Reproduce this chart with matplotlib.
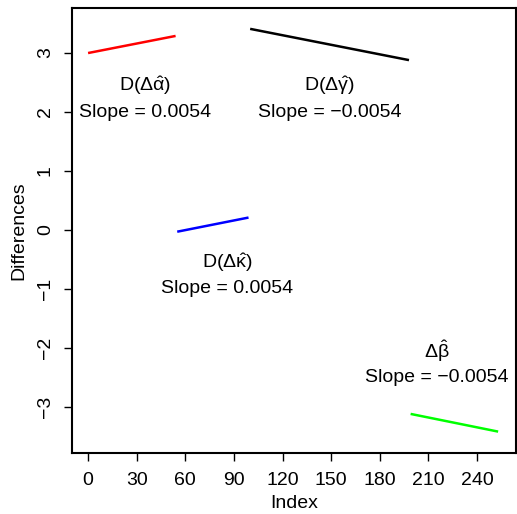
import matplotlib
matplotlib.use("Agg")
import matplotlib.pyplot as plt

plt.rcParams['font.family'] = ['Liberation Sans', 'DejaVu Sans']
plt.rcParams['mathtext.fontset'] = 'custom'
plt.rcParams['mathtext.rm'] = 'Liberation Sans'
plt.rcParams['mathtext.it'] = 'Liberation Sans'

# segment endpoints (index, difference)
seg_x0 = [0, 100, 55, 199]
seg_x1 = [54, 198, 99, 253]
seg_y0 = [3.00, 3.41, -0.03, -3.12]
seg_y1 = [3.29, 2.88, 0.21, -3.42]
seg_colors = ['#ff0000', '#000000', '#0000ff', '#00ff00']

# labels
lab_names = [r'D($\Delta\hat{\alpha}$)', r'D($\Delta\hat{\gamma}$)',
             r'D($\Delta\hat{\kappa}$)', r'$\Delta\hat{\beta}$']
lab_slopes = ['Slope = 0.0054', 'Slope = \u22120.0054',
              'Slope = 0.0054', 'Slope = \u22120.0054']
lab_x = [35, 149, 86, 215]
lab_y = [2.0, 2.0, -1.0, -2.5]

x_ticks = list(range(0, 241, 30))
y_ticks = [-3, -2, -1, 0, 1, 2, 3]

fig = plt.figure(figsize=(5.17, 5.14), dpi=100)
ax = fig.add_axes([0.139, 0.119, 0.859, 0.865])

for i in range(len(seg_x0)):
    ax.plot([seg_x0[i], seg_x1[i]], [seg_y0[i], seg_y1[i]],
            color=seg_colors[i], lw=1.8, solid_capstyle='butt')

for i in range(len(lab_names)):
    ax.text(lab_x[i], lab_y[i] + 0.45, lab_names[i], ha='center', va='center', fontsize=14)
    ax.text(lab_x[i], lab_y[i], lab_slopes[i], ha='center', va='center', fontsize=14)

ax.set_xlim(-10, 264)
ax.set_ylim(-3.78, 3.76)
ax.set_xticks(x_ticks)
ax.set_yticks(y_ticks)
ax.set_yticklabels([str(v).replace('-', '\u2212') for v in y_ticks],
                   rotation=90, va='center')
ax.tick_params(labelsize=14, length=6, width=1, direction='out')
ax.tick_params(axis='x', pad=8)
ax.tick_params(axis='y', pad=7)
for s in ax.spines.values():
    s.set_linewidth(1.5)
ax.set_xlabel('Index', fontsize=14, labelpad=4)
ax.set_ylabel('Differences', fontsize=14, labelpad=7)

fig.savefig('out.png', dpi=100)
